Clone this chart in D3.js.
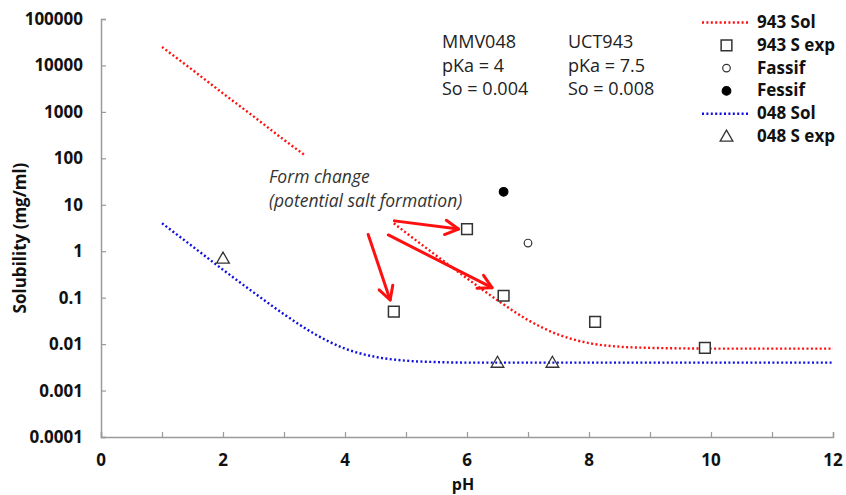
<!DOCTYPE html>
<html>
<head>
<meta charset="utf-8">
<script src="https://cdn.jsdelivr.net/npm/d3@7"></script>
<style>
  body { margin: 0; background: #fff; }
  svg { display: block; font-family: "Open Sans", sans-serif; }
</style>
</head>
<body>
<svg id="chart" width="846" height="495"></svg>
<script>
// --- data ---
const xTicks = [0, 2, 4, 6, 8, 10, 12];
const yTicks = [0.0001, 0.001, 0.01, 0.1, 1, 10, 100, 1000, 10000, 100000];
const yTickLabels = ["0.0001", "0.001", "0.01", "0.1", "1", "10", "100", "1000", "10000", "100000"];

// 943 Sol, first piece (low pH)
const sol943LowPH = [1, 1.5, 2, 2.5, 3, 3.33];
const sol943Low = [25000, 8000, 2500, 800, 250, 120];
// 943 Sol, second piece
const sol943HighPH = [4.8, 5, 5.5, 6, 6.5, 7, 7.5, 8, 8.5, 9, 9.5, 10, 11, 12];
const sol943High = [4.0, 2.5, 0.8, 0.26, 0.088, 0.033, 0.016, 0.0105, 0.0088, 0.0083, 0.0081, 0.008, 0.008, 0.008];
// 048 Sol
const sol048PH = [1, 1.5, 2, 2.5, 3, 3.5, 4, 4.5, 5, 5.5, 6, 7, 8, 9, 10, 11, 12];
const sol048 = [4.0, 1.27, 0.4, 0.13, 0.044, 0.0166, 0.008, 0.0053, 0.0044, 0.0041, 0.004, 0.004, 0.004, 0.004, 0.004, 0.004, 0.004];

// experimental points
const exp943PH = [4.8, 6.0, 6.6, 8.1, 9.9];
const exp943 = [0.05, 3.0, 0.11, 0.03, 0.0083];
const fassifPH = [7.0];
const fassif = [1.5];
const fessifPH = [6.6];
const fessif = [19];
const exp048PH = [2.0, 6.5, 7.4];
const exp048 = [0.7, 0.004, 0.004];

// "form change" arrows: [fromPH, fromS, toPH, toS]
const arrows = [
  [4.38, 2.3, 4.74, 0.089],
  [4.81, 4.5, 5.86, 3.0],
  [4.71, 2.24, 6.41, 0.164],
];

const legendLabels = ["943 Sol", "943 S exp", "Fassif", "Fessif", "048 Sol", "048 S exp"];

// --- layout ---
const svg = d3.select("#chart");
const margin = { left: 101, right: 13, top: 19, bottom: 58 };
const width = 846, height = 495;

const x = d3.scaleLinear().domain([0, 12]).range([margin.left, width - margin.right]);
const y = d3.scaleLog().domain([0.0001, 100000]).range([height - margin.bottom, margin.top]);

const axisColor = "#9a9a9a";
const red = "#ff1010";
const blue = "#1010e0";
const markColor = "#333";

// axes
const xAxis = d3.axisBottom(x).tickValues(d3.range(0, 13, 1)).tickSize(-5).tickFormat("");
const yAxis = d3.axisLeft(y).tickValues(yTicks).tickSize(-5).tickFormat("");

const gx = svg.append("g").attr("transform", `translate(0,${y(0.0001)})`).call(xAxis);
const gy = svg.append("g").attr("transform", `translate(${x(0)},0)`).call(yAxis);
[gx, gy].forEach(g => {
  g.select(".domain").attr("stroke", axisColor).attr("stroke-width", 1.5);
  g.selectAll(".tick line").attr("stroke", axisColor).attr("stroke-width", 1.2);
});

svg.append("g").selectAll("text").data(xTicks).join("text")
  .attr("x", d => x(d)).attr("y", 466)
  .attr("text-anchor", "middle")
  .attr("font-size", 17).attr("font-weight", 700).attr("fill", "#111")
  .text(d => d);

svg.append("g").selectAll("text").data(yTicks).join("text")
  .attr("x", 83).attr("y", d => y(d) + 6)
  .attr("text-anchor", "end")
  .attr("font-size", 17).attr("font-weight", 700).attr("fill", "#111")
  .text((d, i) => yTickLabels[i]);

svg.append("text")
  .attr("x", 463).attr("y", 490)
  .attr("text-anchor", "middle")
  .attr("font-size", 16).attr("font-weight", 700).attr("fill", "#111")
  .text("pH");

svg.append("text")
  .attr("transform", "translate(26,238) rotate(-90)")
  .attr("text-anchor", "middle")
  .attr("font-size", 17).attr("font-weight", 700).attr("fill", "#111")
  .text("Solubility (mg/ml)");

// curves
const line = d3.line().x(d => x(d[0])).y(d => y(d[1])).curve(d3.curveMonotoneX);
const zip = (a, b) => a.map((v, i) => [v, b[i]]);

const curves = [
  { pts: zip(sol943LowPH, sol943Low), color: red },
  { pts: zip(sol943HighPH, sol943High), color: red },
  { pts: zip(sol048PH, sol048), color: blue },
];
svg.append("g").selectAll("path").data(curves).join("path")
  .attr("d", d => line(d.pts))
  .attr("fill", "none")
  .attr("stroke", d => d.color)
  .attr("stroke-width", 2.4)
  .attr("stroke-dasharray", "2 2.4");

// markers
const square = d3.symbol().type(d3.symbolSquare).size(115);
const triangle = d3.symbol().type(d3.symbolTriangle).size(70);

function drawSquare(g, cx, cy) {
  g.append("path").attr("transform", `translate(${cx},${cy})`).attr("d", square())
    .attr("fill", "#fff").attr("stroke", markColor).attr("stroke-width", 1.5);
}
function drawTriangle(g, cx, cy) {
  g.append("path").attr("transform", `translate(${cx},${cy + 1})`).attr("d", triangle())
    .attr("fill", "none").attr("stroke", markColor).attr("stroke-width", 1.3);
}
function drawCircle(g, cx, cy, filled) {
  g.append("circle").attr("cx", cx).attr("cy", cy).attr("r", filled ? 4.3 : 3.8)
    .attr("fill", filled ? "#000" : "#fff").attr("stroke", filled ? "#000" : markColor).attr("stroke-width", 1.2);
}

const marks = svg.append("g");
zip(exp943PH, exp943).forEach(d => drawSquare(marks, x(d[0]), y(d[1])));
zip(fassifPH, fassif).forEach(d => drawCircle(marks, x(d[0]), y(d[1]), false));
zip(fessifPH, fessif).forEach(d => drawCircle(marks, x(d[0]), y(d[1]), true));
zip(exp048PH, exp048).forEach(d => drawTriangle(marks, x(d[0]), y(d[1])));

// arrows
const arrowG = svg.append("g").attr("stroke", red).attr("stroke-width", 3)
  .attr("fill", "none").attr("stroke-linecap", "round").attr("stroke-linejoin", "round");
arrows.forEach(a => {
  const x1 = x(a[0]), y1 = y(a[1]), x2 = x(a[2]), y2 = y(a[3]);
  const ang = Math.atan2(y2 - y1, x2 - x1);
  const len = 15, spread = 0.5;
  const h1 = [x2 - len * Math.cos(ang - spread), y2 - len * Math.sin(ang - spread)];
  const h2 = [x2 - len * Math.cos(ang + spread), y2 - len * Math.sin(ang + spread)];
  arrowG.append("path").attr("d", `M${x1},${y1}L${x2},${y2}`);
  arrowG.append("path").attr("d", `M${h1[0]},${h1[1]}L${x2},${y2}L${h2[0]},${h2[1]}`);
});

// annotations
const note = svg.append("g").attr("font-size", 18).attr("fill", "#222");
[["MMV048", "pKa = 4", "So = 0.004"], ["UCT943", "pKa = 7.5", "So = 0.008"]].forEach((col, c) => {
  col.forEach((t, r) => {
    note.append("text").attr("x", c === 0 ? 442 : 568).attr("y", 48 + r * 23.5).text(t);
  });
});

const form = svg.append("g").attr("font-size", 17.5).attr("font-style", "italic").attr("fill", "#333");
form.append("text").attr("x", 269).attr("y", 183).text("Form change");
form.append("text").attr("x", 269).attr("y", 207).text("(potential salt formation)");

// legend
const leg = svg.append("g");
legendLabels.forEach((lab, i) => {
  const cy = 22.5 + i * 22.8;
  if (i === 0 || i === 4) {
    leg.append("line").attr("x1", 702).attr("x2", 749).attr("y1", cy).attr("y2", cy)
      .attr("stroke", i === 0 ? red : blue).attr("stroke-width", 2.4).attr("stroke-dasharray", "2 2.4");
  } else if (i === 1) drawSquare(leg, 726.5, cy);
  else if (i === 2) drawCircle(leg, 726.5, cy, false);
  else if (i === 3) drawCircle(leg, 726.5, cy, true);
  else drawTriangle(leg, 726.5, cy);
  leg.append("text").attr("x", 757).attr("y", cy + 5.5)
    .attr("font-size", 17).attr("font-weight", 700).attr("fill", "#111").text(lab);
});
</script>
</body>
</html>
